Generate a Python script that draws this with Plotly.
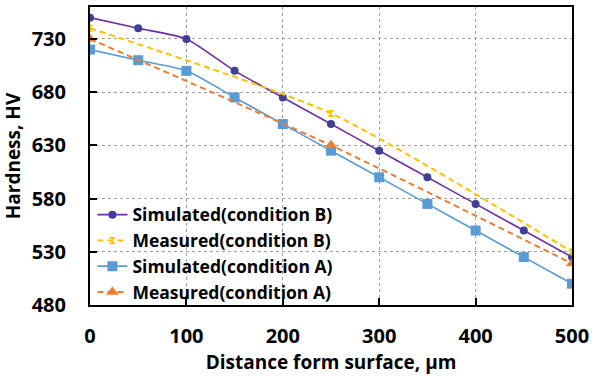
import plotly.graph_objects as go

x_sim = [0, 50, 100, 150, 200, 250, 300, 350, 400, 450, 500]
sim_b = [750, 740, 730, 700, 675, 650, 625, 600, 575, 550, 525]
sim_a = [720, 710, 700, 675, 650, 625, 600, 575, 550, 525, 500]
x_meas = [0, 250, 500]
meas_b = [740, 660, 530]
meas_a = [730, 630, 519]

FONT = "Open Sans"

fig = go.Figure()
fig.add_trace(go.Scatter(x=x_sim, y=sim_b, name="Simulated(condition B)", mode="lines+markers",
                         line=dict(color="#7030A0", width=1.6, shape="spline", smoothing=0.6),
                         marker=dict(symbol="circle", size=8, color="#3F3F94")))
fig.add_trace(go.Scatter(x=x_meas, y=meas_b, name="Measured(condition B)", mode="lines+markers",
                         line=dict(color="#FFC000", width=2, dash="6px,4px", shape="spline", smoothing=0.6),
                         marker=dict(symbol="hourglass", size=7, color="#FFC000")))
fig.add_trace(go.Scatter(x=x_sim, y=sim_a, name="Simulated(condition A)", mode="lines+markers",
                         line=dict(color="#5B9BD5", width=1.6, shape="spline", smoothing=0.6),
                         marker=dict(symbol="square", size=10, color="#5B9BD5")))
fig.add_trace(go.Scatter(x=x_meas, y=meas_a, name="Measured(condition A)", mode="lines+markers",
                         line=dict(color="#ED7D31", width=2, dash="6px,4px", shape="spline", smoothing=0.6),
                         marker=dict(symbol="triangle-up", size=11, color="#ED7D31")))

axis_common = dict(showline=True, linecolor="black", linewidth=2, mirror=True,
                   ticks="inside", ticklen=7, tickcolor="black", tickwidth=1.5,
                   showgrid=True, gridcolor="#A0A0A0", griddash="3px,3px", gridwidth=1,
                   zeroline=False,
                   tickfont=dict(family=FONT, size=20, color="black", weight="bold"))

fig.update_xaxes(range=[0, 500], dtick=100, tick0=0, ticklabelstandoff=12,
                 title=dict(text="Distance form surface, µm", standoff=0,
                            font=dict(family=FONT, size=19, color="black", weight="bold")),
                 **axis_common)
fig.update_yaxes(range=[480, 760], dtick=50, tick0=480, ticklabelstandoff=18,
                 title=dict(text="Hardness, HV", standoff=8,
                            font=dict(family=FONT, size=19, color="black", weight="bold")),
                 **axis_common)

fig.update_layout(
    width=594, height=378,
    margin=dict(l=90, r=19, t=5, b=73),
    paper_bgcolor="white", plot_bgcolor="white",
    showlegend=True,
    legend=dict(x=0.005, y=-0.016, xanchor="left", yanchor="bottom",
                bgcolor="rgba(0,0,0,0)", tracegroupgap=0,
                font=dict(family=FONT, size=17.5, color="black", weight="bold")),
)

fig.write_html("out.html")
